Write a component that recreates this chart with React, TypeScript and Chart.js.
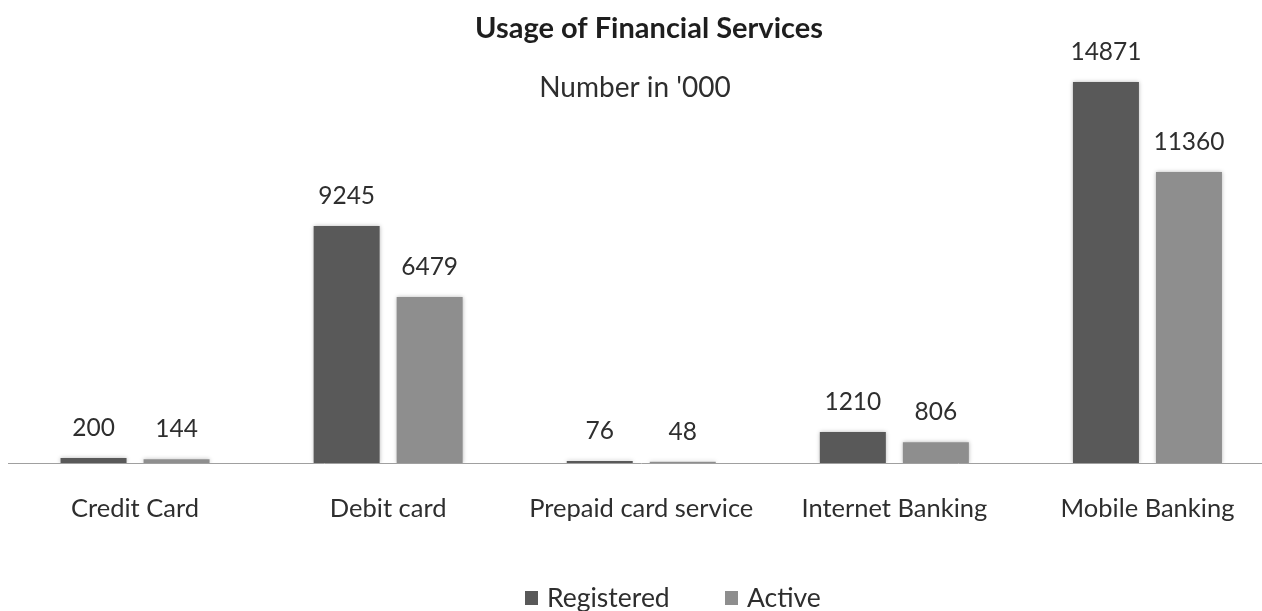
import React, { useEffect, useRef } from "react";
import { Chart, registerables } from "chart.js";

Chart.register(...registerables);

const categories = ["Credit Card", "Debit card", "Prepaid card service", "Internet Banking", "Mobile Banking"];
const seriesNames = ["Registered", "Active"];
const registered = [200, 9245, 76, 1210, 14871];
const active = [144, 6479, 48, 806, 11360];
const seriesColors = ["#595959", "#8e8e8e"];
const titleText = "Usage of Financial Services";
const subtitleText = "Number in '000";

const FONT = "Lato";
const TEXT = "#2e2e2e";

const shadowPlugin = {
  id: "barShadow",
  beforeDatasetDraw(chart: any) {
    const ctx = chart.ctx;
    ctx.save();
    ctx.shadowColor = "rgba(0,0,0,0.28)";
    ctx.shadowBlur = 4;
    ctx.shadowOffsetX = 0;
    ctx.shadowOffsetY = 0;
  },
  afterDatasetDraw(chart: any) {
    chart.ctx.restore();
  },
};

const labelsPlugin = {
  id: "valueLabels",
  afterDatasetsDraw(chart: any) {
    const ctx = chart.ctx;
    ctx.save();
    ctx.font = `24.5px ${FONT}`;
    ctx.fillStyle = TEXT;
    ctx.textAlign = "center";
    ctx.textBaseline = "middle";
    chart.data.datasets.forEach((ds: any, i: number) => {
      const meta = chart.getDatasetMeta(i);
      meta.data.forEach((el: any, j: number) => {
        ctx.fillText(String(ds.data[j]), el.x, el.y - 30);
      });
    });
    ctx.restore();
  },
};

const textPlugin = {
  id: "texts",
  afterDraw(chart: any) {
    const ctx = chart.ctx;
    ctx.save();
    ctx.textAlign = "center";
    ctx.textBaseline = "middle";
    ctx.fillStyle = "#1e1e1e";
    ctx.font = `bold 29px ${FONT}`;
    ctx.fillText(titleText, 649, 29);
    ctx.fillStyle = TEXT;
    ctx.font = `28px ${FONT}`;
    ctx.fillText(subtitleText, 635, 88);

    // legend
    const legendX = [525, 725];
    const y = 598;
    ctx.textAlign = "left";
    ctx.font = `26.5px ${FONT}`;
    chart.data.datasets.forEach((ds: any, i: number) => {
      ctx.fillStyle = ds.backgroundColor;
      ctx.fillRect(legendX[i], y - 7, 13, 14);
      ctx.fillStyle = TEXT;
      ctx.fillText(ds.label, legendX[i] + 22, y);
    });
    ctx.restore();
  },
};

export default function App() {
  const ref = useRef<HTMLCanvasElement>(null);
  useEffect(() => {
    if (!ref.current) return;
    const chart = new Chart(ref.current, {
      type: "bar",
      data: {
        labels: categories,
        datasets: [
          { label: seriesNames[0], data: registered, backgroundColor: seriesColors[0], borderWidth: 0 },
          { label: seriesNames[1], data: active, backgroundColor: seriesColors[1], borderWidth: 0 },
        ],
      },
      options: {
        animation: false,
        responsive: false,
        devicePixelRatio: 1,
        layout: { padding: { left: 8.5, right: 0, top: 53, bottom: 0 } },
        datasets: { bar: { categoryPercentage: 0.656, barPercentage: 0.795 } },
        plugins: {
          legend: { display: false },
          title: { display: false },
          tooltip: { enabled: false },
        },
        scales: {
          x: {
            grid: { display: false, drawTicks: false },
            border: { display: true, color: "#a0a0a0", width: 1 },
            ticks: { color: TEXT, font: { family: FONT, size: 25.5 }, padding: 30, maxRotation: 0 },
            afterFit: (scale: any) => {
              scale.height = 148;
            },
          },
          y: { display: false, min: 0, max: 16000 },
        },
      },
      plugins: [shadowPlugin, labelsPlugin, textPlugin],
    } as any);
    return () => chart.destroy();
  }, []);
  return (
    <div style={{ position: "absolute", left: 0, top: 0, width: 1262, height: 611, overflow: "hidden", background: "#fff" }}>
      <canvas ref={ref} width={1274} height={611} style={{ display: "block" }} />
    </div>
  );
}
